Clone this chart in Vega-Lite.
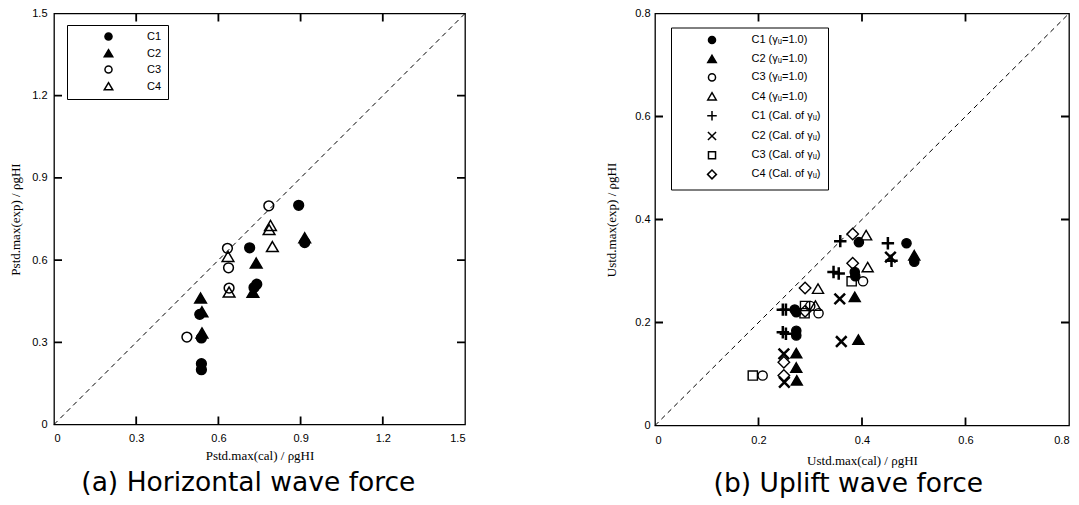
{
  "$schema": "https://vega.github.io/schema/vega-lite/v6.json",
  "background": "white",
  "padding": {"left": 9, "top": 6.5, "right": 8, "bottom": 0},
  "spacing": 137,
  "datasets": {
    "diagL": [{"x": 0, "y": 0}, {"x": 1.5, "y": 1.5}],
    "diagR": [{"x": 0, "y": 0}, {"x": 0.8, "y": 0.8}],
    "ticksL": [{"v": 0.3}, {"v": 0.6}, {"v": 0.9}, {"v": 1.2}],
    "ticksR": [{"v": 0.2}, {"v": 0.4}, {"v": 0.6}],
    "left": [
      {"series": "C1", "x": 0.893, "y": 0.800},
      {"series": "C1", "x": 0.915, "y": 0.664},
      {"series": "C1", "x": 0.714, "y": 0.645},
      {"series": "C1", "x": 0.740, "y": 0.512},
      {"series": "C1", "x": 0.730, "y": 0.500},
      {"series": "C1", "x": 0.532, "y": 0.402},
      {"series": "C1", "x": 0.538, "y": 0.316},
      {"series": "C1", "x": 0.538, "y": 0.222},
      {"series": "C1", "x": 0.538, "y": 0.200},
      {"series": "C2", "x": 0.915, "y": 0.680},
      {"series": "C2", "x": 0.738, "y": 0.588},
      {"series": "C2", "x": 0.726, "y": 0.481},
      {"series": "C2", "x": 0.535, "y": 0.460},
      {"series": "C2", "x": 0.540, "y": 0.410},
      {"series": "C2", "x": 0.540, "y": 0.333},
      {"series": "C3", "x": 0.784, "y": 0.798},
      {"series": "C3", "x": 0.633, "y": 0.643},
      {"series": "C3", "x": 0.637, "y": 0.572},
      {"series": "C3", "x": 0.639, "y": 0.498},
      {"series": "C3", "x": 0.485, "y": 0.319},
      {"series": "C4", "x": 0.790, "y": 0.725},
      {"series": "C4", "x": 0.785, "y": 0.710},
      {"series": "C4", "x": 0.797, "y": 0.648},
      {"series": "C4", "x": 0.635, "y": 0.612},
      {"series": "C4", "x": 0.639, "y": 0.482}
    ],
    "right": [
      {"series": "C1 (γᵤ=1.0)", "x": 0.486, "y": 0.354},
      {"series": "C1 (γᵤ=1.0)", "x": 0.394, "y": 0.356},
      {"series": "C1 (γᵤ=1.0)", "x": 0.501, "y": 0.318},
      {"series": "C1 (γᵤ=1.0)", "x": 0.386, "y": 0.298},
      {"series": "C1 (γᵤ=1.0)", "x": 0.387, "y": 0.290},
      {"series": "C1 (γᵤ=1.0)", "x": 0.270, "y": 0.225},
      {"series": "C1 (γᵤ=1.0)", "x": 0.273, "y": 0.220},
      {"series": "C1 (γᵤ=1.0)", "x": 0.273, "y": 0.184},
      {"series": "C1 (γᵤ=1.0)", "x": 0.273, "y": 0.175},
      {"series": "C2 (γᵤ=1.0)", "x": 0.501, "y": 0.330},
      {"series": "C2 (γᵤ=1.0)", "x": 0.386, "y": 0.249},
      {"series": "C2 (γᵤ=1.0)", "x": 0.393, "y": 0.166},
      {"series": "C2 (γᵤ=1.0)", "x": 0.273, "y": 0.140},
      {"series": "C2 (γᵤ=1.0)", "x": 0.273, "y": 0.112},
      {"series": "C2 (γᵤ=1.0)", "x": 0.274, "y": 0.087},
      {"series": "C3 (γᵤ=1.0)", "x": 0.402, "y": 0.280},
      {"series": "C3 (γᵤ=1.0)", "x": 0.300, "y": 0.232},
      {"series": "C3 (γᵤ=1.0)", "x": 0.316, "y": 0.218},
      {"series": "C3 (γᵤ=1.0)", "x": 0.208, "y": 0.097},
      {"series": "C4 (γᵤ=1.0)", "x": 0.408, "y": 0.369},
      {"series": "C4 (γᵤ=1.0)", "x": 0.411, "y": 0.307},
      {"series": "C4 (γᵤ=1.0)", "x": 0.315, "y": 0.265},
      {"series": "C4 (γᵤ=1.0)", "x": 0.310, "y": 0.232},
      {"series": "C1 (Cal. of γᵤ)", "x": 0.358, "y": 0.358},
      {"series": "C1 (Cal. of γᵤ)", "x": 0.450, "y": 0.354},
      {"series": "C1 (Cal. of γᵤ)", "x": 0.457, "y": 0.320},
      {"series": "C1 (Cal. of γᵤ)", "x": 0.345, "y": 0.298},
      {"series": "C1 (Cal. of γᵤ)", "x": 0.355, "y": 0.295},
      {"series": "C1 (Cal. of γᵤ)", "x": 0.247, "y": 0.225},
      {"series": "C1 (Cal. of γᵤ)", "x": 0.253, "y": 0.225},
      {"series": "C1 (Cal. of γᵤ)", "x": 0.247, "y": 0.181},
      {"series": "C1 (Cal. of γᵤ)", "x": 0.253, "y": 0.178},
      {"series": "C2 (Cal. of γᵤ)", "x": 0.455, "y": 0.327},
      {"series": "C2 (Cal. of γᵤ)", "x": 0.357, "y": 0.246},
      {"series": "C2 (Cal. of γᵤ)", "x": 0.360, "y": 0.163},
      {"series": "C2 (Cal. of γᵤ)", "x": 0.249, "y": 0.139},
      {"series": "C2 (Cal. of γᵤ)", "x": 0.250, "y": 0.084},
      {"series": "C3 (Cal. of γᵤ)", "x": 0.380, "y": 0.280},
      {"series": "C3 (Cal. of γᵤ)", "x": 0.289, "y": 0.218},
      {"series": "C3 (Cal. of γᵤ)", "x": 0.290, "y": 0.232},
      {"series": "C3 (Cal. of γᵤ)", "x": 0.189, "y": 0.097},
      {"series": "C4 (Cal. of γᵤ)", "x": 0.382, "y": 0.372},
      {"series": "C4 (Cal. of γᵤ)", "x": 0.382, "y": 0.315},
      {"series": "C4 (Cal. of γᵤ)", "x": 0.290, "y": 0.267},
      {"series": "C4 (Cal. of γᵤ)", "x": 0.290, "y": 0.222},
      {"series": "C4 (Cal. of γᵤ)", "x": 0.249, "y": 0.123},
      {"series": "C4 (Cal. of γᵤ)", "x": 0.249, "y": 0.097}
    ]
  },
  "hconcat": [
    {
      "width": 411,
      "height": 411,
      "title": {"text": "(a) Horizontal wave force", "orient": "bottom", "frame": "bounds", "anchor": "middle", "font": "DejaVu Sans", "fontSize": 26.5, "fontWeight": "normal", "color": "black", "offset": 8, "dx": 10},
      "layer": [
        {
          "data": {"name": "diagL"},
          "mark": {"type": "line", "stroke": "black", "strokeWidth": 1, "strokeDash": [5, 4]},
          "encoding": {
            "x": {"field": "x", "type": "quantitative", "title": "Pstd.max(cal) / ρgHI", "scale": {"domain": [0, 1.5], "nice": false, "zero": false},
              "axis": {"orient": "bottom", "values": [0, 0.3, 0.6, 0.9, 1.2, 1.5], "format": "~g", "ticks": false, "domain": false, "labelPadding": 7.5, "titlePadding": 6}},
            "y": {"field": "y", "type": "quantitative", "title": "Pstd.max(exp) / ρgHI", "scale": {"domain": [0, 1.5], "nice": false, "zero": false},
              "axis": {"orient": "left", "values": [0, 0.3, 0.6, 0.9, 1.2, 1.5], "format": "~g", "ticks": false, "domain": false, "labelPadding": 7, "titlePadding": 9}}
          }
        },
        {
          "data": {"name": "ticksL"},
          "mark": {"type": "tick", "orient": "vertical", "size": 16, "thickness": 1.8, "color": "black", "opacity": 1, "clip": true},
          "encoding": {
            "x": {"field": "v", "type": "quantitative", "title": "Pstd.max(cal) / ρgHI"},
            "y": {"datum": 0, "type": "quantitative"}
          }
        },
        {
          "data": {"name": "ticksL"},
          "mark": {"type": "tick", "orient": "vertical", "size": 16, "thickness": 1.8, "color": "black", "opacity": 1, "clip": true},
          "encoding": {
            "x": {"field": "v", "type": "quantitative", "title": "Pstd.max(cal) / ρgHI"},
            "y": {"datum": 1.5, "type": "quantitative"}
          }
        },
        {
          "data": {"name": "ticksL"},
          "mark": {"type": "tick", "orient": "horizontal", "size": 16, "thickness": 1.8, "color": "black", "opacity": 1, "clip": true},
          "encoding": {
            "y": {"field": "v", "type": "quantitative", "title": "Pstd.max(exp) / ρgHI"},
            "x": {"datum": 0, "type": "quantitative"}
          }
        },
        {
          "data": {"name": "ticksL"},
          "mark": {"type": "tick", "orient": "horizontal", "size": 16, "thickness": 1.8, "color": "black", "opacity": 1, "clip": true},
          "encoding": {
            "y": {"field": "v", "type": "quantitative", "title": "Pstd.max(exp) / ρgHI"},
            "x": {"datum": 1.5, "type": "quantitative"}
          }
        },
        {
          "data": {"name": "left"},
          "mark": {"type": "point", "opacity": 1, "size": 95, "strokeWidth": 1.5},
          "encoding": {
            "x": {"field": "x", "type": "quantitative", "title": "Pstd.max(cal) / ρgHI"},
            "y": {"field": "y", "type": "quantitative", "title": "Pstd.max(exp) / ρgHI"},
            "shape": {"field": "series", "type": "nominal",
              "scale": {"domain": ["C1", "C2", "C3", "C4"], "range": ["circle", "M0,-1.1L1.2,0.95L-1.2,0.95Z", "circle", "M0,-1.1L1.2,0.95L-1.2,0.95Z"]},
              "legend": {"title": null, "orient": "none", "legendX": 13, "legendY": 11.5, "padding": 6, "symbolOffset": 30, "labelOffset": 33, "rowPadding": 2, "strokeColor": "black", "fillColor": "white", "symbolSize": 50, "symbolStrokeColor": "black", "symbolStrokeWidth": 1.5, "labelFont": "Liberation Sans", "labelFontSize": 11, "labelColor": "black",
                "encode": {"symbols": {"strokeWidth": {"value": 1.5}}}}},
            "fill": {"field": "series", "type": "nominal",
              "scale": {"domain": ["C1", "C2", "C3", "C4"], "range": ["black", "black", "transparent", "transparent"]},
              "legend": {"title": null, "orient": "none", "legendX": 13, "legendY": 11.5, "padding": 6, "symbolOffset": 30, "labelOffset": 33, "rowPadding": 2, "strokeColor": "black", "fillColor": "white", "symbolSize": 50, "symbolStrokeColor": "black", "symbolStrokeWidth": 1.5, "labelFont": "Liberation Sans", "labelFontSize": 11, "labelColor": "black",
                "encode": {"symbols": {"strokeWidth": {"value": 1.5}}}}},
            "stroke": {"field": "series", "type": "nominal",
              "scale": {"domain": ["C1", "C2", "C3", "C4"], "range": ["black", "black", "black", "black"]},
              "legend": {"title": null, "orient": "none", "legendX": 13, "legendY": 11.5, "padding": 6, "symbolOffset": 30, "labelOffset": 33, "rowPadding": 2, "strokeColor": "black", "fillColor": "white", "symbolSize": 50, "symbolStrokeColor": "black", "symbolStrokeWidth": 1.5, "labelFont": "Liberation Sans", "labelFontSize": 11, "labelColor": "black",
                "encode": {"symbols": {"strokeWidth": {"value": 1.5}}}}}
          }
        }
      ]
    },
    {
      "width": 414,
      "height": 412,
      "title": {"text": "(b) Uplift wave force", "orient": "bottom", "frame": "bounds", "anchor": "middle", "font": "DejaVu Sans", "fontSize": 26.5, "fontWeight": "normal", "color": "black", "offset": 3, "dx": 10},
      "layer": [
        {
          "data": {"name": "diagR"},
          "mark": {"type": "line", "stroke": "black", "strokeWidth": 1, "strokeDash": [5, 4]},
          "encoding": {
            "x": {"field": "x", "type": "quantitative", "title": "Ustd.max(cal) / ρgHI", "scale": {"domain": [0, 0.8], "nice": false, "zero": false},
              "axis": {"orient": "bottom", "values": [0, 0.2, 0.4, 0.6, 0.8], "format": "~g", "ticks": false, "domain": false, "labelPadding": 9, "titlePadding": 9}},
            "y": {"field": "y", "type": "quantitative", "title": "Ustd.max(exp) / ρgHI", "scale": {"domain": [0, 0.8], "nice": false, "zero": false},
              "axis": {"orient": "left", "values": [0, 0.2, 0.4, 0.6, 0.8], "format": "~g", "ticks": false, "domain": false, "labelPadding": 5, "titlePadding": 16}}
          }
        },
        {
          "data": {"name": "ticksR"},
          "mark": {"type": "tick", "orient": "vertical", "size": 16, "thickness": 1.8, "color": "black", "opacity": 1, "clip": true},
          "encoding": {
            "x": {"field": "v", "type": "quantitative", "title": "Ustd.max(cal) / ρgHI"},
            "y": {"datum": 0, "type": "quantitative"}
          }
        },
        {
          "data": {"name": "ticksR"},
          "mark": {"type": "tick", "orient": "vertical", "size": 16, "thickness": 1.8, "color": "black", "opacity": 1, "clip": true},
          "encoding": {
            "x": {"field": "v", "type": "quantitative", "title": "Ustd.max(cal) / ρgHI"},
            "y": {"datum": 0.8, "type": "quantitative"}
          }
        },
        {
          "data": {"name": "ticksR"},
          "mark": {"type": "tick", "orient": "horizontal", "size": 16, "thickness": 1.8, "color": "black", "opacity": 1, "clip": true},
          "encoding": {
            "y": {"field": "v", "type": "quantitative", "title": "Ustd.max(exp) / ρgHI"},
            "x": {"datum": 0, "type": "quantitative"}
          }
        },
        {
          "data": {"name": "ticksR"},
          "mark": {"type": "tick", "orient": "horizontal", "size": 16, "thickness": 1.8, "color": "black", "opacity": 1, "clip": true},
          "encoding": {
            "y": {"field": "v", "type": "quantitative", "title": "Ustd.max(exp) / ρgHI"},
            "x": {"datum": 0.8, "type": "quantitative"}
          }
        },
        {
          "data": {"name": "right"},
          "mark": {"type": "point", "opacity": 1, "size": 85},
          "encoding": {
            "x": {"field": "x", "type": "quantitative", "title": "Ustd.max(cal) / ρgHI"},
            "y": {"field": "y", "type": "quantitative", "title": "Ustd.max(exp) / ρgHI"},
            "strokeWidth": {"condition": {"test": "datum.series == 'C1 (Cal. of γᵤ)' || datum.series == 'C2 (Cal. of γᵤ)'", "value": 2.5}, "value": 1.4},
            "shape": {"field": "series", "type": "nominal",
              "scale": {"domain": ["C1 (γᵤ=1.0)", "C2 (γᵤ=1.0)", "C3 (γᵤ=1.0)", "C4 (γᵤ=1.0)", "C1 (Cal. of γᵤ)", "C2 (Cal. of γᵤ)", "C3 (Cal. of γᵤ)", "C4 (Cal. of γᵤ)"],
                "range": ["circle", "M0,-1.1L1.2,0.95L-1.2,0.95Z", "circle", "M0,-1.1L1.2,0.95L-1.2,0.95Z", "M-1.35,0H1.35M0,-1.35V1.35", "M-1.15,-1.15L1.15,1.15M-1.15,1.15L1.15,-1.15", "square", "M-1.25,0L0,-1.25L1.25,0L0,1.25Z"]},
              "legend": {"title": null, "orient": "none", "legendX": 16, "legendY": 14, "padding": 7, "symbolOffset": 28.5, "labelOffset": 34, "rowPadding": 4.2, "strokeColor": "black", "fillColor": "white", "symbolSize": 50, "symbolStrokeColor": "black", "symbolStrokeWidth": 1.5, "labelFont": "Liberation Sans", "labelFontSize": 11, "labelColor": "black", "labelLimit": 300,
                "encode": {"symbols": {"strokeWidth": {"condition": {"test": "datum.value == 'C1 (Cal. of γᵤ)' || datum.value == 'C2 (Cal. of γᵤ)'", "value": 2.5}, "value": 1.5}}}}},
            "fill": {"field": "series", "type": "nominal",
              "scale": {"domain": ["C1 (γᵤ=1.0)", "C2 (γᵤ=1.0)", "C3 (γᵤ=1.0)", "C4 (γᵤ=1.0)", "C1 (Cal. of γᵤ)", "C2 (Cal. of γᵤ)", "C3 (Cal. of γᵤ)", "C4 (Cal. of γᵤ)"],
                "range": ["black", "black", "transparent", "transparent", "transparent", "transparent", "transparent", "transparent"]},
              "legend": {"title": null, "orient": "none", "legendX": 16, "legendY": 14, "padding": 7, "symbolOffset": 28.5, "labelOffset": 34, "rowPadding": 4.2, "strokeColor": "black", "fillColor": "white", "symbolSize": 50, "symbolStrokeColor": "black", "symbolStrokeWidth": 1.5, "labelFont": "Liberation Sans", "labelFontSize": 11, "labelColor": "black", "labelLimit": 300,
                "encode": {"symbols": {"strokeWidth": {"condition": {"test": "datum.value == 'C1 (Cal. of γᵤ)' || datum.value == 'C2 (Cal. of γᵤ)'", "value": 2.5}, "value": 1.5}}}}},
            "stroke": {"field": "series", "type": "nominal",
              "scale": {"domain": ["C1 (γᵤ=1.0)", "C2 (γᵤ=1.0)", "C3 (γᵤ=1.0)", "C4 (γᵤ=1.0)", "C1 (Cal. of γᵤ)", "C2 (Cal. of γᵤ)", "C3 (Cal. of γᵤ)", "C4 (Cal. of γᵤ)"],
                "range": ["black", "black", "black", "black", "black", "black", "black", "black"]},
              "legend": {"title": null, "orient": "none", "legendX": 16, "legendY": 14, "padding": 7, "symbolOffset": 28.5, "labelOffset": 34, "rowPadding": 4.2, "strokeColor": "black", "fillColor": "white", "symbolSize": 50, "symbolStrokeColor": "black", "symbolStrokeWidth": 1.5, "labelFont": "Liberation Sans", "labelFontSize": 11, "labelColor": "black", "labelLimit": 300,
                "encode": {"symbols": {"strokeWidth": {"condition": {"test": "datum.value == 'C1 (Cal. of γᵤ)' || datum.value == 'C2 (Cal. of γᵤ)'", "value": 2.5}, "value": 1.5}}}}}
          }
        }
      ]
    }
  ],
  "resolve": {"scale": {"shape": "independent", "fill": "independent", "stroke": "independent"}, "legend": {"shape": "independent", "fill": "independent", "stroke": "independent"}},
  "config": {
    "view": {"stroke": "black", "strokeWidth": 1.3},
    "axis": {"grid": false, "domainColor": "black", "domainWidth": 1.3, "tickColor": "black",
      "labelFont": "Liberation Sans", "labelFontSize": 11, "labelColor": "black",
      "titleFont": "Liberation Serif", "titleFontSize": 13, "titleFontWeight": "normal", "titleColor": "black"}
  }
}
